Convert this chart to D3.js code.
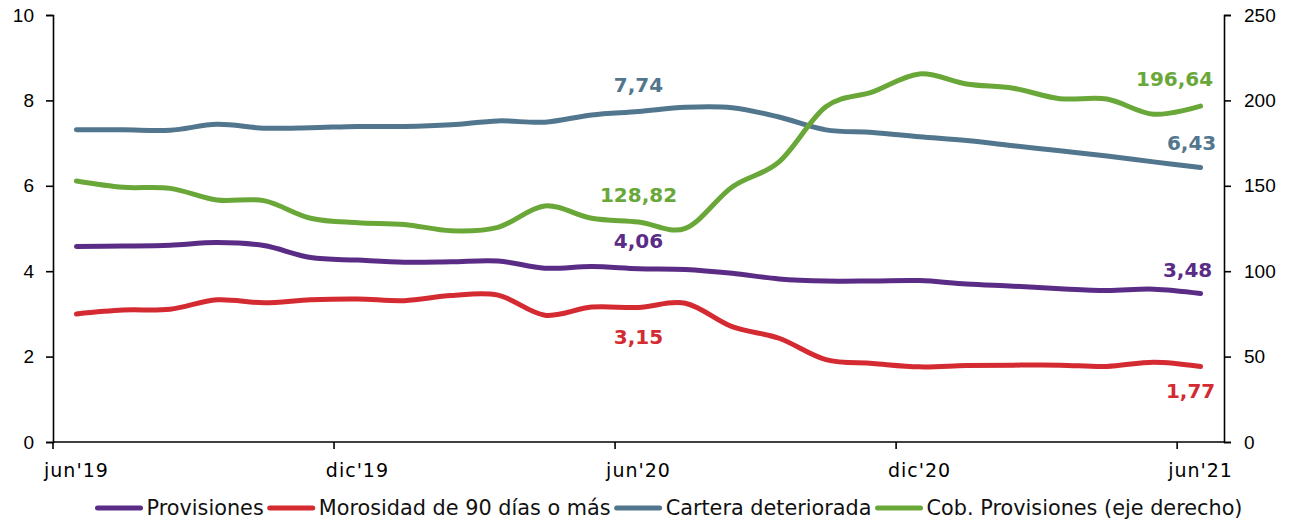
<!DOCTYPE html>
<html>
<head>
<meta charset="utf-8">
<script src="https://cdn.jsdelivr.net/npm/d3@7"></script>
<style>
  body { margin: 0; background: #fff; }
  svg { font-family: "DejaVu Sans", Verdana, sans-serif; }
  .axis path, .axis line { stroke: #000; stroke-width: 1.6; }
  .axis text { font-size: 19px; fill: #000; }
  .axis text.xlab { letter-spacing: 1px; }
  .serie { fill: none; stroke-width: 5; stroke-linecap: round; }
  .lbl { font-size: 20px; font-weight: bold; }
  .legend text { font-size: 20.8px; fill: #111; }
</style>
</head>
<body>
<div id="chart"></div>
<script>
//Data (monthly, jun'19 - jun'21)
var months = ["jun'19","jul'19","ago'19","sep'19","oct'19","nov'19","dic'19","ene'20","feb'20","mar'20","abr'20","may'20",
  "jun'20","jul'20","ago'20","sep'20","oct'20","nov'20","dic'20","ene'21","feb'21","mar'21","abr'21","may'21","jun'21"];
var tickLabels = ["jun'19","dic'19","jun'20","dic'20","jun'21"];

var provisiones = [4.58,4.59,4.61,4.67,4.60,4.32,4.26,4.21,4.22,4.24,4.07,4.11,4.06,4.04,3.95,3.82,3.77,3.77,3.78,3.70,3.65,3.59,3.55,3.58,3.48];
var morosidad = [3.00,3.09,3.11,3.33,3.26,3.33,3.35,3.31,3.43,3.44,2.97,3.16,3.15,3.25,2.70,2.43,1.93,1.84,1.76,1.79,1.80,1.80,1.77,1.87,1.77];
var cartera = [7.31,7.31,7.30,7.44,7.35,7.36,7.39,7.39,7.43,7.52,7.49,7.66,7.74,7.84,7.83,7.61,7.31,7.25,7.15,7.06,6.94,6.82,6.70,6.56,6.43];
var cobertura = [152.8,149.1,148.5,141.7,141.3,131.0,128.4,127.4,123.7,125.7,138.2,131.0,128.82,125.1,149.3,164.0,196.3,205.0,215.5,209.6,207.1,201.0,200.8,191.9,196.64];

var seriesNames = ["Provisiones","Morosidad de 90 días o más","Cartera deteriorada","Cob. Provisiones (eje derecho)"];
var seriesColors = ["#5b2c86","#d42a31","#52768e","#6aa739"];

//Canvas
var W = 1299, H = 523;
var margin = {top: 15, right: 75, bottom: 81, left: 53};
var w = W - margin.left - margin.right,
    h = H - margin.top - margin.bottom;

var svg = d3.select("#chart").append("svg")
  .attr("width", W).attr("height", H);
var g = svg.append("g")
  .attr("transform", "translate(" + margin.left + "," + margin.top + ")");

//Scales
var xScale = d3.scaleBand().domain(months).range([0, w]);
var xMid = function(i) { return xScale(months[i]) + xScale.bandwidth() / 2; };
var yLeft = d3.scaleLinear().domain([0, 10]).range([h, 0]);
var yRight = d3.scaleLinear().domain([0, 250]).range([h, 0]);

//Axes
var yAxisL = d3.axisLeft(yLeft).tickValues([0,2,4,6,8,10]).tickSize(7).tickPadding(12);
var yAxisR = d3.axisRight(yRight).tickValues([0,50,100,150,200,250]).tickSize(7).tickPadding(13);

g.append("g").attr("class", "axis").call(yAxisL);
g.append("g").attr("class", "axis")
  .attr("transform", "translate(" + w + ",0)")
  .call(yAxisR);

//X axis: ticks at the start of each 6th month, labels at month centre
var xAxis = g.append("g").attr("class", "axis")
  .attr("transform", "translate(0," + h + ")");
xAxis.append("line").attr("x1", 0).attr("x2", w).attr("y1", 0).attr("y2", 0);
tickLabels.forEach(function(t) {
  var x0 = xScale(t);
  xAxis.append("line").attr("x1", x0).attr("x2", x0).attr("y1", 0).attr("y2", 7);
  xAxis.append("text")
    .attr("class", "xlab")
    .attr("x", x0 + xScale.bandwidth() / 2)
    .attr("y", 35)
    .attr("text-anchor", "middle")
    .text(t);
});

//Lines (smoothed)
var lineL = d3.line()
  .curve(d3.curveCardinal.tension(0))
  .x(function(d, i) { return xMid(i); })
  .y(function(d) { return yLeft(d); });
var lineR = d3.line()
  .curve(d3.curveCardinal.tension(0))
  .x(function(d, i) { return xMid(i); })
  .y(function(d) { return yRight(d); });

var allSeries = [provisiones, morosidad, cartera, cobertura];
allSeries.forEach(function(s, k) {
  g.append("path")
    .datum(s)
    .attr("class", "serie")
    .attr("stroke", seriesColors[k])
    .attr("d", k == 3 ? lineR : lineL);
});

//Data labels
var fmt = function(v) { return d3.format(".2f")(v).replace(".", ","); };
var last = months.length - 1, mid = 12;
var labels = [
  {s: 2, i: mid, dx: 0, dy: -20, y: yLeft},
  {s: 3, i: mid, dx: 0, dy: -20, y: yRight},
  {s: 0, i: mid, dx: 0, dy: -21, y: yLeft},
  {s: 1, i: mid, dx: 0, dy: 37, y: yLeft},
  {s: 3, i: last, dx: -26, dy: -20, y: yRight},
  {s: 2, i: last, dx: -9, dy: -17, y: yLeft},
  {s: 0, i: last, dx: -13, dy: -16, y: yLeft},
  {s: 1, i: last, dx: -10, dy: 32, y: yLeft}
];
labels.forEach(function(l) {
  var v = allSeries[l.s][l.i];
  g.append("text")
    .attr("class", "lbl")
    .attr("fill", seriesColors[l.s])
    .attr("text-anchor", "middle")
    .attr("x", xMid(l.i) + l.dx)
    .attr("y", l.y(v) + l.dy)
    .text(fmt(v));
});

//Legend
var legend = svg.append("g").attr("class", "legend");
var lx = 0;
seriesNames.forEach(function(n, k) {
  var item = legend.append("g").attr("transform", "translate(" + lx + ",0)");
  item.append("line")
    .attr("x1", 2).attr("x2", 45).attr("y1", 0).attr("y2", 0)
    .attr("stroke", seriesColors[k]).attr("stroke-width", 5).attr("stroke-linecap", "round");
  var t = item.append("text").attr("x", 51).attr("y", 7).text(n);
  lx += 51 + t.node().getComputedTextLength() + 4;
});
legend.attr("transform", "translate(" + (671 - lx / 2) + ",508)");
</script>
</body>
</html>
